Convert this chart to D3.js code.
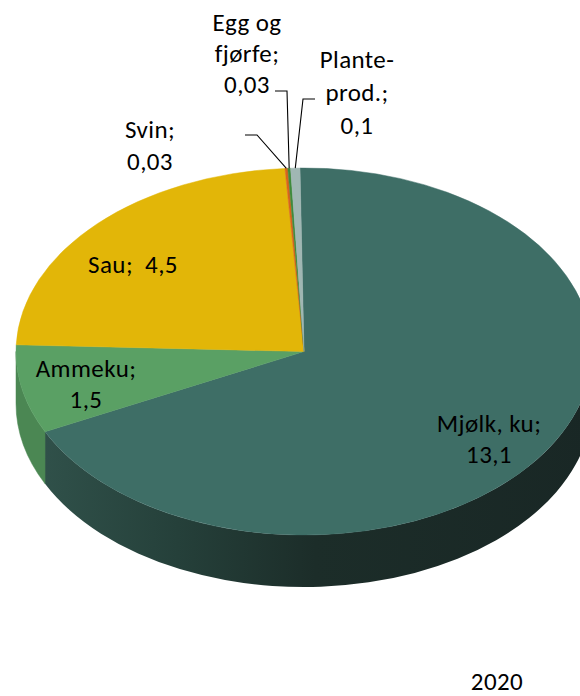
<!DOCTYPE html>
<html>
<head>
<meta charset="utf-8">
<script src="https://cdn.jsdelivr.net/npm/d3@7"></script>
<style>
  html, body { margin: 0; padding: 0; background: #ffffff; }
  svg { display: block; }
  text { font-family: Carlito, Lato, "Liberation Sans", sans-serif; font-size: 25px; fill: #000; letter-spacing: 0.4px; }
</style>
</head>
<body>
<svg id="chart" width="580" height="696"></svg>
<script>
// ---- data ----
const categories = ["Mjølk, ku", "Ammeku", "Sau", "Svin", "Egg og\nfjørfe", "Plante-\nprod."];
const values = [13.1, 1.5, 4.5, 0.03, 0.03, 0.1];
const topColors = ["#3e6e66", "#5aa064", "#e2b608", "#d8641c", "#3f8a3c", "#a0b7b3"];
const sideColors = ["url(#mjolkSide)", "#4b8753", "#b8930a", "#a84d15", "#2f6a2c", "#7b8f8b"];
const yearLabel = "2020";

// ---- layout ----
const W = 580, H = 696;
const cx = 304, cy = 351.5, rx = 288, ry = 183.5, depth = 52;
const startAngle = -0.8 * Math.PI / 180;
// label layout: centre x, first baseline y, line height, inline flag, leader elbow
const labelLayout = [
  { x: 489, y: 432, lh: 31 },
  { x: 86, y: 377, lh: 31 },
  { x: 133, y: 273, inline: true },
  { x: 150, y: 138, lh: 32, leader: [[245, 135], [257, 135]] },
  { x: 247, y: 31, lh: 31, leader: [[275, 91], [287, 91]] },
  { x: 357, y: 68, lh: 33, leader: [[315, 99], [303, 99]] }
];

const data = categories.map((c, i) => ({ name: c, value: values[i], i }));
const fmt = v => String(v).replace(".", ",");

const svg = d3.select("#chart");
const defs = svg.append("defs");
const grad = defs.append("linearGradient")
  .attr("id", "mjolkSide").attr("gradientUnits", "userSpaceOnUse")
  .attr("x1", 40).attr("y1", 0).attr("x2", 590).attr("y2", 0);
grad.append("stop").attr("offset", "0%").attr("stop-color", "#30514a");
grad.append("stop").attr("offset", "25%").attr("stop-color", "#25403a");
grad.append("stop").attr("offset", "50%").attr("stop-color", "#1c2d29");
grad.append("stop").attr("offset", "100%").attr("stop-color", "#192725");

const pie = d3.pie().sort(null).value(d => d.value)
  .startAngle(startAngle).endAngle(startAngle + 2 * Math.PI);
const arcs = pie(data);

const pt = (a, dy) => [cx + rx * Math.sin(a), cy - ry * Math.cos(a) + dy];

// sides (front-facing part of the rim)
const sideG = svg.append("g");
arcs.forEach(a => {
  const a0 = Math.max(a.startAngle, Math.PI / 2);
  const a1 = Math.min(a.endAngle, 3 * Math.PI / 2);
  if (a1 <= a0) return;
  const p0 = pt(a0, 0), p1 = pt(a1, 0), q1 = pt(a1, depth), q0 = pt(a0, depth);
  const d = `M${p0[0]},${p0[1]} A${rx},${ry} 0 0 1 ${p1[0]},${p1[1]} L${q1[0]},${q1[1]} A${rx},${ry} 0 0 0 ${q0[0]},${q0[1]} Z`;
  sideG.append("path").attr("d", d).attr("fill", sideColors[a.data.i])
    .attr("stroke", sideColors[a.data.i] === "url(#mjolkSide)" ? "none" : sideColors[a.data.i]).attr("stroke-width", 0.5);
});

// top faces
const arcGen = d3.arc().innerRadius(0).outerRadius(rx);
svg.append("g")
  .attr("transform", `translate(${cx},${cy}) scale(1,${ry / rx})`)
  .selectAll("path").data(arcs).join("path")
  .attr("d", arcGen)
  .attr("fill", d => topColors[d.data.i])
  .attr("stroke", d => topColors[d.data.i])
  .attr("stroke-width", 0.6);

// leader lines
const leaderG = svg.append("g");
arcs.forEach(a => {
  const L = labelLayout[a.data.i];
  if (!L.leader) return;
  const mid = (a.startAngle + a.endAngle) / 2;
  const e = pt(mid, 0);
  const pts = L.leader.concat([e]);
  leaderG.append("path")
    .attr("d", d3.line()(pts))
    .attr("fill", "none").attr("stroke", "#000").attr("stroke-width", 1.1);
});

// labels
const labelG = svg.append("g");
data.forEach(d => {
  const L = labelLayout[d.i];
  const nameLines = d.name.split("\n");
  nameLines[nameLines.length - 1] += ";";
  let lines;
  if (L.inline) lines = [nameLines.join(" ") + "  " + fmt(d.value)];
  else lines = nameLines.concat([fmt(d.value)]);
  const t = labelG.append("text").attr("text-anchor", "middle").attr("xml:space", "preserve");
  lines.forEach((ln, k) => {
    t.append("tspan").attr("x", L.x).attr("y", L.y + k * (L.lh || 0)).text(ln);
  });
});

svg.append("text").attr("x", 497).attr("y", 690).attr("text-anchor", "middle").text(yearLabel);
</script>
</body>
</html>
